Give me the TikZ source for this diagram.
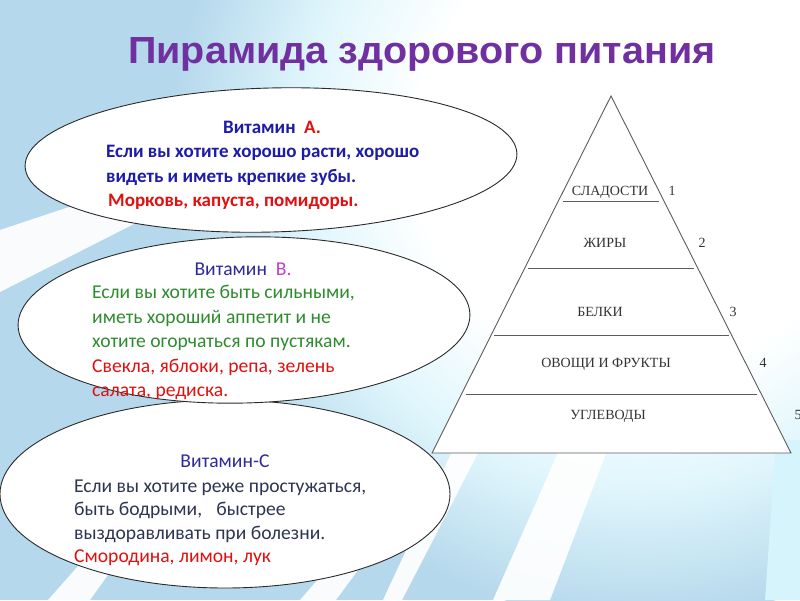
\documentclass[tikz,border=0pt]{standalone}
\usepackage{graphicx}
\usepackage{fontspec}
\setmainfont{Carlito}
\newfontfamily\titlefont{Liberation Sans}
\newfontfamily\pyrfont{Liberation Serif}
\usetikzlibrary{shapes.geometric}
\definecolor{bgblue}{HTML}{B5D8EC}
\definecolor{glowcyan}{HTML}{E0F6FC}
\definecolor{raycyan}{HTML}{D6F4FC}
\definecolor{ttl}{HTML}{7030A0}
\definecolor{vblue}{HTML}{1C1CA8}
\definecolor{vred}{HTML}{E01010}
\definecolor{vgreen}{HTML}{2E8B2E}
\definecolor{vmag}{HTML}{C040C8}
\definecolor{vnavy}{HTML}{2E2A9C}
\definecolor{vslate}{HTML}{2E3550}
\definecolor{pyrgray}{HTML}{333333}
\definecolor{ellline}{HTML}{2A2A2A}
\pgfdeclareradialshading{glow}{\pgfpoint{0bp}{0bp}}{color(0bp)=(white); color(12bp)=(white); color(18bp)=(glowcyan); color(25bp)=(bgblue); color(50bp)=(bgblue)}
\begin{document}
\begin{tikzpicture}[x=1pt,y=-1pt,
  bubble/.style={ellipse, draw=ellline, fill=white, line width=0.9pt, inner sep=0pt},
  ray/.style={fill=white, opacity=0.92},
  txtA/.style={font=\fontsize{19}{22}\selectfont\bfseries, inner sep=0pt},
  txtB/.style={font=\fontsize{19.6}{22}\selectfont, inner sep=0pt},
  pyrline/.style={draw=pyrgray!80, line width=0.9pt},
  pyrlabel/.style={font=\pyrfont\fontsize{14}{16}\selectfont, text=pyrgray, inner sep=0pt, anchor=base}]
\useasboundingbox (0,0) rectangle (800,600);
% background
\begin{scope}
  \clip (0,0) rectangle (800,600);
  \fill[bgblue] (0,0) rectangle (800,600);
  \shade[shading=glow] (640,150) circle (470);
  \fill[ray] (0,230) -- (0,292) -- (260,160) -- (270,140) -- cycle;
  \fill[ray] (48,600) -- (90,600) -- (140,530) -- (110,530) -- cycle;
  \fill[ray] (300,600) -- (336,600) -- (380,540) -- (352,540) -- cycle;
  \fill[ray] (383,600) -- (402,600) -- (490,430) -- (462,430) -- cycle;
  \fill[ray] (493,600) -- (550,600) -- (615,430) -- (568,430) -- cycle;
  \fill[raycyan] (765,600) -- (800,600) -- (800,440) -- (776,440) -- cycle;
\end{scope}
% title
\node[anchor=base west, text=ttl, inner sep=0pt] (title) at (128,63)
  {\resizebox{587pt}{26pt}{\titlefont\bfseries Пирамида здорового питания}};
% pyramid
\draw[pyrline, fill=white] (611,96) -- (791,453) -- (432,453) -- cycle;
\draw[pyrline] (563,201) -- (659,201);
\draw[pyrline] (528,268) -- (694,268);
\draw[pyrline] (494,335) -- (729,335);
\draw[pyrline] (466,394) -- (757,394);
\node[pyrlabel] (p1) at (610,195) {СЛАДОСТИ};
\node[pyrlabel] (n1) at (672,195) {1};
\node[pyrlabel] (p2) at (605,247) {ЖИРЫ};
\node[pyrlabel] (n2) at (702,247) {2};
\node[pyrlabel] (p3) at (600,316) {БЕЛКИ};
\node[pyrlabel] (n3) at (733,316) {3};
\node[pyrlabel] (p4) at (606,367) {ОВОЩИ И ФРУКТЫ};
\node[pyrlabel] (n4) at (763,367) {4};
\node[pyrlabel] (p5) at (608,419) {УГЛЕВОДЫ};
\node[pyrlabel] (n5) at (798,419) {5};
% ellipses
\node[bubble, minimum width=450, minimum height=188] (ellC) at (225,494) {};
\node[bubble, minimum width=452, minimum height=166, rotate=1.5] (ellB) at (244,320) {};
\node[bubble, minimum width=492, minimum height=144, rotate=1.5] (ellA) at (271,160) {};
% vitamin A
\node[txtA, anchor=base] (a1) at (272,133) {\color{vblue}Витамин\hspace{0.45em}\color{vred}А.};
\node[txtA, anchor=base west, text=vblue] (a2) at (106,157) {Если вы хотите хорошо расти, хорошо};
\node[txtA, anchor=base west, text=vblue] (a3) at (106,182) {видеть и иметь крепкие зубы.};
\node[txtA, anchor=base west, text=vred] (a4) at (108,206) {Морковь, капуста, помидоры.};
% vitamin B
\node[txtB, anchor=base] (b1) at (243,275) {\color{vnavy}Витамин\hspace{0.45em}\color{vmag}В.};
\node[txtB, anchor=base west, text=vgreen] (b2) at (92,298) {Если вы хотите быть сильными,};
\node[txtB, anchor=base west, text=vgreen] (b3) at (92,323) {иметь хороший аппетит и не};
\node[txtB, anchor=base west, text=vgreen] (b4) at (92,347) {хотите огорчаться по пустякам.};
\node[txtB, anchor=base west, text=vred] (b5) at (92,372) {Свекла, яблоки, репа, зелень};
\node[txtB, anchor=base west, text=vred] (b6) at (92,396) {салата, редиска.};
% vitamin C
\node[txtB, anchor=base, text=vnavy] (c1) at (225,467) {Витамин-С};
\node[txtB, anchor=base west, text=vslate] (c2) at (74,492) {Если вы хотите реже простужаться,};
\node[txtB, anchor=base west, text=vslate] (c3) at (74,515) {быть бодрыми,\hspace{0.5em} быстрее};
\node[txtB, anchor=base west, text=vslate] (c4) at (74,539) {выздоравливать при болезни.};
\node[txtB, anchor=base west, text=vred] (c5) at (74,562) {Смородина, лимон, лук};
\end{tikzpicture}
\end{document}
